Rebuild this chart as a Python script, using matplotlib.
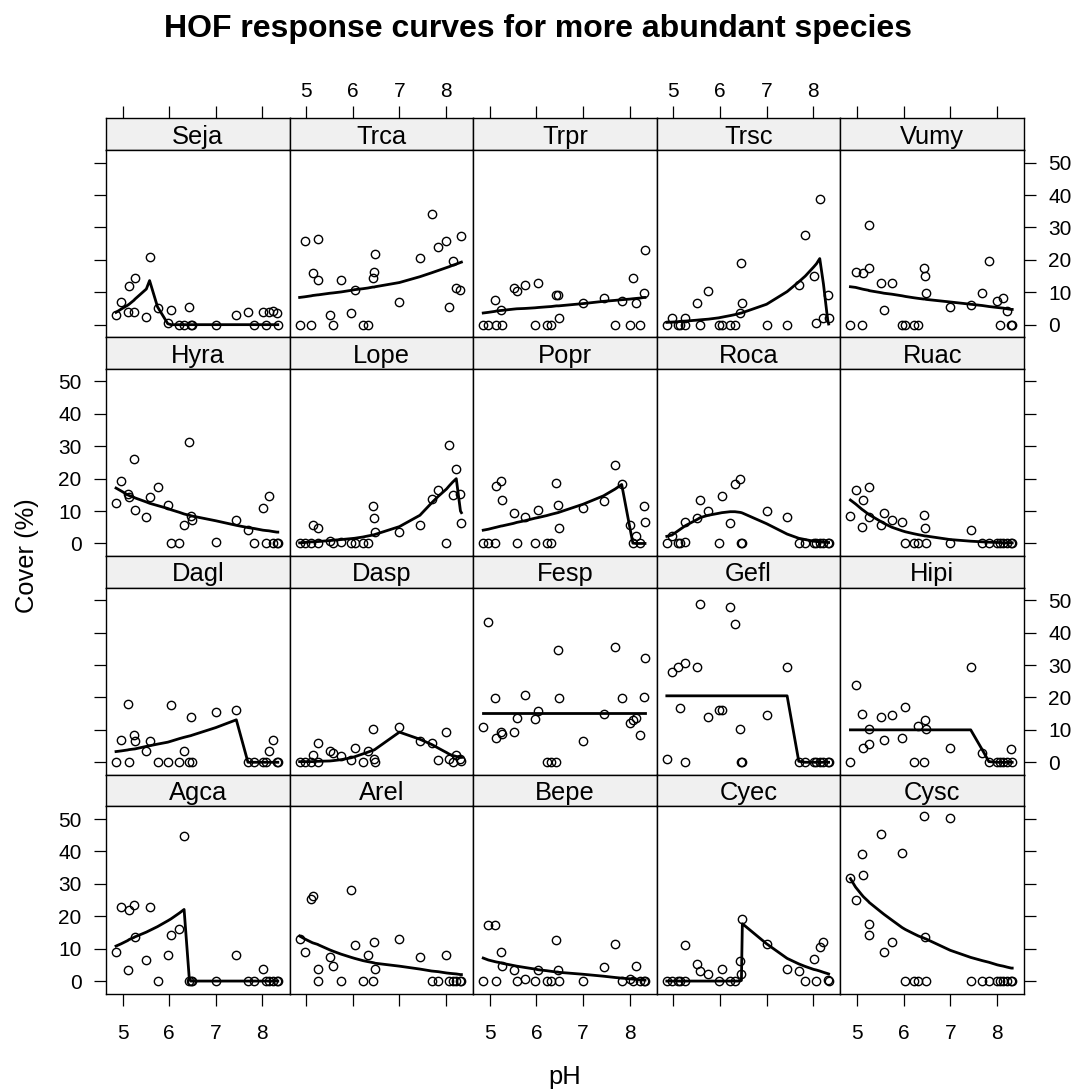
import matplotlib
matplotlib.use('Agg')
from matplotlib import pyplot as plt

# pH of the 26 sample plots (shared by every panel)
PH = [4.86, 4.97, 5.11, 5.14, 5.25, 5.26, 5.51, 5.58, 5.75, 5.97, 6.04, 6.22, 6.32,
      6.43, 6.46, 6.48, 7.00, 7.44, 7.69, 7.83, 8.01, 8.07, 8.14, 8.22, 8.31, 8.33]

# observed cover (%) and fitted HOF curve, one pair per species
SEJA = [3.1, 7.1, 4.0, 11.8, 4.0, 14.5, 2.5, 21.0, 5.0, 0.5, 4.5, 0, 0, 5.5, 0, 0, 0, 3.0, 4.0, 0, 4.0, 0, 3.8, 4.2, 3.6, 0]
SEJA_FIT = [3.8, 4.8, 6.0, 6.3, 7.6, 7.8, 11.0, 13.6, 5.5, 0.3, 0, 0, 0, 0, 0, 0, 0, 0, 0, 0, 0, 0, 0, 0, 0, 0]
TRCA = [0, 25.7, 0, 15.9, 26.4, 13.8, 3.0, 0, 13.8, 3.6, 10.8, 0, 0, 14.4, 16.4, 21.7, 7.1, 20.6, 34.0, 24.1, 25.7, 5.5, 19.5, 11.3, 10.8, 27.3]
TRCA_FIT = [8.4, 8.6, 8.9, 9.0, 9.2, 9.2, 9.7, 9.8, 10.1, 10.6, 10.8, 11.1, 11.3, 11.6, 11.6, 11.7, 13.0, 14.8, 16.0, 16.7, 17.6, 17.9, 18.3, 18.7, 19.2, 19.3]
TRPR = [0, 0, 7.6, 0, 4.6, 0, 11.3, 10.3, 12.3, 0, 12.8, 0, 0, 9.2, 9.2, 2.1, 6.7, 8.2, 0, 7.2, 0, 14.4, 6.7, 0, 9.8, 23.1]
TRPR_FIT = [3.6, 3.8, 4.1, 4.2, 4.4, 4.4, 4.8, 4.9, 5.0, 5.2, 5.3, 5.5, 5.6, 5.8, 5.8, 5.8, 6.5, 7.2, 7.5, 7.7, 7.9, 8.0, 8.1, 8.2, 8.4, 8.4]
TRSC = [0, 2.1, 0, 0, 2.1, 0, 6.7, 0, 10.3, 0, 0, 0, 0, 3.6, 19.0, 6.7, 0, 0, 12.3, 27.8, 14.9, 0.5, 38.7, 2.1, 9.2, 2.1]
TRSC_FIT = [0.7, 0.8, 0.9, 1.0, 1.1, 1.1, 1.4, 1.5, 1.7, 2.1, 2.3, 2.8, 3.1, 3.5, 3.6, 3.7, 6.3, 10.2, 13.2, 15.0, 17.8, 18.8, 20.4, 12.5, 1.5, 0.2]
VUMY = [0, 16.4, 0, 15.8, 17.5, 30.9, 12.8, 4.6, 12.8, 0, 0, 0, 0, 17.5, 14.9, 9.8, 5.5, 6.1, 9.8, 19.5, 7.2, 0, 8.2, 4.1, 0, 0]
VUMY_FIT = [11.7, 11.5, 11.0, 10.9, 10.6, 10.5, 9.9, 9.7, 9.4, 8.9, 8.7, 8.3, 8.1, 7.9, 7.9, 7.8, 7.0, 6.3, 5.9, 5.6, 5.3, 5.2, 5.1, 4.9, 4.7, 4.7]

HYRA = [12.4, 19.2, 15.2, 14.2, 26.1, 10.4, 8.3, 14.2, 17.3, 11.9, 0, 0, 5.7, 31.3, 8.5, 7.2, 0.5, 7.3, 4.1, 0, 10.9, 0, 14.7, 0, 0, 0]
HYRA_FIT = [17.1, 16.2, 15.0, 14.8, 14.2, 14.1, 12.8, 12.4, 11.7, 10.8, 10.4, 9.6, 9.1, 8.7, 8.6, 8.5, 7.0, 5.6, 4.9, 4.6, 4.1, 4.0, 3.9, 3.7, 3.5, 3.5]
LOPE = [0, 0, 0, 5.7, 4.9, 0, 0.7, 0, 0.5, 0, 0, 0, 0, 11.6, 7.8, 3.6, 3.6, 5.7, 13.7, 16.6, 0, 30.3, 15.0, 23.0, 15.2, 6.2]
LOPE_FIT = [0.2, 0.3, 0.5, 0.5, 0.6, 0.6, 0.9, 1.0, 1.2, 1.5, 1.6, 2.0, 2.3, 2.6, 2.7, 2.8, 5.2, 8.7, 12.5, 14.5, 16.8, 17.8, 18.9, 20.0, 10.0, 9.5]
POPR = [0, 0, 0, 17.8, 19.2, 13.5, 9.3, 0, 8.3, 0, 10.4, 0, 0, 18.7, 11.9, 4.7, 10.9, 13.0, 24.1, 18.4, 5.7, 0, 2.3, 0, 11.6, 6.7]
POPR_FIT = [4.1, 4.4, 4.9, 5.0, 5.4, 5.4, 6.2, 6.5, 7.0, 7.8, 8.0, 8.6, 9.0, 9.4, 9.5, 9.6, 12.1, 14.7, 16.8, 18.2, 4.5, 0.1, 0, 0, 0, 0]
ROCA = [0, 2.3, 0, 0, 6.7, 0.5, 7.8, 13.5, 9.9, 0, 14.7, 6.2, 18.2, 19.9, 0, 0, 9.9, 8.3, 0, 0, 0, 0, 0, 0, 0, 0]
ROCA_FIT = [2.2, 2.6, 4.0, 4.3, 5.4, 5.5, 7.4, 8.0, 8.7, 9.3, 9.5, 9.8, 9.8, 9.6, 9.5, 9.4, 6.1, 2.9, 1.6, 1.2, 0.7, 0.6, 0.5, 0.4, 0.3, 0.3]
RUAC = [8.5, 16.6, 5.2, 13.5, 17.3, 8.3, 5.7, 9.3, 7.3, 6.7, 0, 0, 0, 8.8, 4.7, 0, 0, 4.1, 0, 0, 0, 0, 0, 0, 0, 0]
RUAC_FIT = [13.4, 12.2, 10.5, 10.2, 9.0, 8.9, 6.8, 6.2, 5.0, 3.9, 3.6, 3.0, 2.7, 2.4, 2.3, 2.3, 1.2, 0.7, 0.5, 0.4, 0.3, 0.3, 0.2, 0.2, 0.2, 0.2]

DAGL = [0, 7.0, 18.1, 0, 8.3, 6.7, 3.4, 6.7, 0, 0, 17.6, 0, 3.4, 0, 14.0, 0, 15.5, 16.0, 0, 0, 0, 0, 3.4, 7.0, 0, 0]
DAGL_FIT = [3.3, 3.5, 3.8, 3.9, 4.1, 4.1, 4.9, 5.1, 5.6, 6.2, 6.5, 7.3, 7.7, 8.1, 8.2, 8.3, 10.7, 13.1, 0, 0, 0, 0, 0, 0, 0, 0]
DASP = [0, 0, 0, 2.1, 6.0, 0, 3.4, 2.9, 1.9, 0.8, 4.5, 0, 3.4, 10.4, 1.0, 0, 10.9, 6.5, 6.0, 0.8, 9.3, 1.0, 0, 2.1, 1.0, 0.5]
DASP_FIT = [0.2, 0.2, 0.2, 0.2, 0.3, 0.3, 0.4, 0.5, 0.8, 1.4, 1.7, 2.6, 3.1, 3.7, 3.8, 4.0, 9.3, 7.1, 5.5, 4.4, 3.0, 2.5, 2.1, 1.8, 1.5, 1.5]
FESP = [10.9, 43.2, 19.7, 7.6, 9.3, 8.6, 9.3, 13.8, 20.7, 13.3, 15.7, 0, 0, 0, 34.7, 19.7, 6.7, 15.0, 35.7, 19.7, 12.2, 12.9, 13.8, 8.3, 20.2, 32.1]
FESP_FIT = [15.2, 15.2, 15.2, 15.2, 15.2, 15.2, 15.2, 15.2, 15.2, 15.2, 15.2, 15.2, 15.2, 15.2, 15.2, 15.2, 15.2, 15.2, 15.2, 15.2, 15.2, 15.2, 15.2, 15.2, 15.2, 15.2]
GEFL = [1.0, 28.0, 29.3, 16.6, 30.5, 0, 29.5, 48.9, 14.0, 16.0, 16.0, 47.8, 42.7, 10.4, 0, 0, 14.5, 29.5, 0, 0, 0, 0, 0, 0, 0, 0]
GEFL_FIT = [20.5, 20.5, 20.5, 20.5, 20.5, 20.5, 20.5, 20.5, 20.5, 20.5, 20.5, 20.5, 20.5, 20.5, 20.5, 20.5, 20.5, 20.5, 0.3, 0, 0, 0, 0, 0, 0, 0]
HIPI = [0, 23.8, 15.0, 4.5, 10.4, 5.7, 14.0, 7.0, 14.5, 7.6, 17.1, 0, 11.2, 0, 12.9, 10.4, 4.5, 29.5, 2.9, 0, 0, 0, 0, 0, 4.1, 0]
HIPI_FIT = [10.0, 10.0, 10.0, 10.0, 10.0, 10.0, 10.0, 10.0, 10.0, 10.0, 10.0, 10.0, 10.0, 10.0, 10.0, 10.0, 10.0, 10.0, 3.8, 0.2, 0, 0, 0, 0, 0, 0]

AGCA = [9.0, 22.9, 3.3, 21.9, 23.4, 13.6, 6.4, 22.9, 0, 7.9, 14.1, 16.2, 44.7, 0, 0, 0, 0, 7.9, 0, 0, 3.8, 0, 0, 0, 0, 0]
AGCA_FIT = [10.8, 11.5, 12.5, 12.8, 13.5, 13.6, 15.1, 15.6, 16.8, 18.6, 19.2, 21.0, 22.1, 1.0, 0, 0, 0, 0, 0, 0, 0, 0, 0, 0, 0, 0]
AREL = [13.1, 9.0, 25.2, 26.2, 3.6, 0, 7.4, 4.8, 0, 28.2, 11.0, 0, 7.9, 0, 12.1, 3.6, 13.1, 7.4, 0, 0, 7.9, 0, 0, 0, 0, 0]
AREL_FIT = [13.9, 13.0, 12.0, 11.8, 11.3, 11.2, 9.6, 9.2, 8.3, 7.3, 7.0, 6.3, 6.0, 5.7, 5.6, 5.5, 4.6, 3.7, 3.1, 2.9, 2.5, 2.4, 2.3, 2.2, 2.0, 2.0]
BEPE = [0, 17.2, 17.2, 0, 9.0, 4.8, 3.3, 0, 0.5, 0, 3.3, 0, 0, 12.6, 3.3, 0, 0, 4.3, 11.5, 0, 0.7, 0, 4.8, 0, 0, 0]
BEPE_FIT = [7.1, 6.5, 6.0, 5.9, 5.6, 5.5, 4.8, 4.6, 4.2, 3.7, 3.5, 3.2, 3.0, 2.8, 2.8, 2.7, 2.1, 1.5, 1.1, 0.9, 0.7, 0.6, 0.5, 0.4, 0.3, 0.3]
CYEC = [0, 0, 0, 0, 11.0, 0, 5.4, 3.1, 2.3, 0, 3.6, 0, 0, 6.2, 2.3, 19.3, 11.5, 3.6, 3.1, 0, 6.9, 0, 10.5, 12.1, 0.4, 0]
CYEC_FIT = [0, 0, 0, 0, 0, 0, 0, 0, 0, 0, 0, 0, 0, 0, 0.2, 17.7, 11.5, 7.0, 5.3, 4.5, 3.6, 3.4, 3.1, 2.7, 2.3, 2.2]
CYSC = [31.9, 25.1, 39.1, 32.8, 17.7, 14.1, 45.3, 9.0, 12.1, 39.6, 0, 0, 0, 50.9, 13.7, 0, 50.4, 0, 0, 0, 0, 0, 0, 0, 0, 0]
CYSC_FIT = [31.6, 29.0, 26.5, 26.0, 24.5, 24.3, 21.4, 20.6, 18.8, 16.5, 15.9, 14.6, 13.9, 13.3, 13.1, 13.0, 9.5, 7.3, 6.3, 5.8, 5.0, 4.8, 4.6, 4.3, 4.0, 4.0]

# panel layout, top row first
PANELS = [
    [('Seja', SEJA, SEJA_FIT), ('Trca', TRCA, TRCA_FIT), ('Trpr', TRPR, TRPR_FIT),
     ('Trsc', TRSC, TRSC_FIT), ('Vumy', VUMY, VUMY_FIT)],
    [('Hyra', HYRA, HYRA_FIT), ('Lope', LOPE, LOPE_FIT), ('Popr', POPR, POPR_FIT),
     ('Roca', ROCA, ROCA_FIT), ('Ruac', RUAC, RUAC_FIT)],
    [('Dagl', DAGL, DAGL_FIT), ('Dasp', DASP, DASP_FIT), ('Fesp', FESP, FESP_FIT),
     ('Gefl', GEFL, GEFL_FIT), ('Hipi', HIPI, HIPI_FIT)],
    [('Agca', AGCA, AGCA_FIT), ('Arel', AREL, AREL_FIT), ('Bepe', BEPE, BEPE_FIT),
     ('Cyec', CYEC, CYEC_FIT), ('Cysc', CYSC, CYSC_FIT)],
]

X_TICKS = [5, 6, 7, 8]
Y_TICKS = [0, 10, 20, 30, 40, 50]
XLIM = (4.645, 8.583)
YLIM = (-3.9, 53.9)

W, H = 1077, 1092
LEFT = 106.0
PANEL_W = 183.6
TOP = 118.5
STRIP_H = 31.5
PANEL_H = 187.3

FONT = 'Liberation Sans'
TICK_FS = 15
STRIP_FS = 18.4
TICK_LEN = 8.6


def px_axes(fig, x, y, w, h):
    return fig.add_axes([x / W, 1 - (y + h) / H, w / W, h / H])


def main():
    plt.rcParams['font.family'] = [FONT, 'DejaVu Sans']
    fig = plt.figure(figsize=(W / 100, H / 100), dpi=100)

    nrows = len(PANELS)
    for r, row in enumerate(PANELS):
        for c, (name, cover, fit) in enumerate(row):
            x0 = LEFT + c * PANEL_W
            y0 = TOP + r * (STRIP_H + PANEL_H)

            strip = px_axes(fig, x0, y0, PANEL_W, STRIP_H)
            strip.set_facecolor('#f0f0f0')
            strip.set_xlim(XLIM)
            strip.set_ylim(0, 1)
            strip.set_yticks([])
            strip.text(0.5, 0.42, name, transform=strip.transAxes, ha='center', va='center',
                       fontsize=STRIP_FS)
            if r == 0:
                strip.set_xticks(X_TICKS)
                strip.xaxis.set_ticks_position('top')
                strip.tick_params(axis='x', direction='out', length=TICK_LEN, width=0.9,
                                  labelsize=TICK_FS, pad=4, labeltop=(c % 2 == 1))
            else:
                strip.set_xticks([])

            ax = px_axes(fig, x0, y0 + STRIP_H, PANEL_W, PANEL_H)
            ax.plot(PH, cover, 'o', mfc='none', mec='black', ms=6, mew=1.0, zorder=2)
            ax.plot(PH, fit, '-', color='black', lw=2.0, zorder=3, solid_joinstyle='round')
            ax.set_xlim(XLIM)
            ax.set_ylim(YLIM)

            ax.set_xticks(X_TICKS)
            ax.set_yticks(Y_TICKS)
            ax.tick_params(axis='x', direction='out', length=TICK_LEN, width=0.9,
                           labelsize=TICK_FS, pad=13.5,
                           bottom=(r == nrows - 1), top=False,
                           labelbottom=(r == nrows - 1 and c % 2 == 0), labeltop=False)
            ax.tick_params(axis='y', direction='out', length=TICK_LEN, width=0.9,
                           labelsize=TICK_FS, pad=9,
                           left=(c == 0), right=(c == len(row) - 1),
                           labelleft=(c == 0 and r % 2 == 1),
                           labelright=(c == len(row) - 1 and r % 2 == 0))

            for a in (strip, ax):
                for sp in a.spines.values():
                    sp.set_linewidth(1.0)

    fig.text(0.5, 1 - 37 / H, 'HOF response curves for more abundant species', ha='center',
             va='baseline', fontsize=23, fontweight='bold')
    fig.text((LEFT + 2.5 * PANEL_W) / W, 1 - 1077 / H, 'pH', ha='center', va='center',
             fontsize=STRIP_FS)
    grid_mid = TOP + 2 * (STRIP_H + PANEL_H)
    fig.text(27 / W, 1 - grid_mid / H, 'Cover (%)', ha='center', va='center',
             rotation=90, fontsize=STRIP_FS)

    fig.savefig('out.png', dpi=100)


if __name__ == '__main__':
    main()
